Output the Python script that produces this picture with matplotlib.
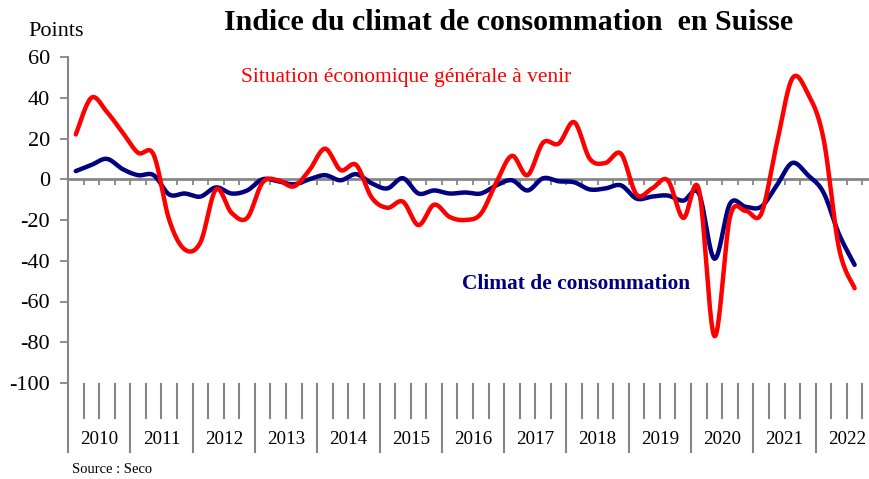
import numpy as np
import matplotlib
matplotlib.use("Agg")
import matplotlib.pyplot as plt
import matplotlib.transforms as mtransforms

plt.rcParams['font.family'] = ['Liberation Serif', 'DejaVu Serif']

# --- Data (quarterly, 2010 Q1 .. 2022 Q3) ---
years = [str(y) for y in range(2010, 2023)]
climat = [4, 7, 10, 5, 2, 2, -7.5, -7, -8.5, -4, -7, -5.5,
          0, -1, -2.5, 0, 2, -0.5, 2.5, -2, -4.5, 0.5, -7, -5.5,
          -7, -6.5, -7, -3, -0.5, -5.5, 0.5, -1, -1.5, -5, -4.5, -3,
          -9.5, -8.5, -8, -10.5, -7, -39, -12, -13.5, -13.5, -3, 8, 2,
          -6.5, -27, -42]
situation = [22, 40, 33, 23, 13, 12, -20, -34.5, -31, -5, -16.5, -19,
             -1.5, -0.5, -3.5, 4.5, 15, 4.5, 7, -9, -14, -11, -22.5, -12.5,
             -18.5, -20, -17, -1.5, 11.5, 2, 18, 17.5, 28, 10, 8, 12.5,
             -7.5, -4.5, -0.5, -19, -5, -77, -18.5, -15.5, -17, 17.5, 49.5, 42,
             20, -34, -53.5]

n_cat = 4 * len(years)
red = '#FF0000'
navy = '#000080'
gray = '#868686'


def smooth(vals, steps=20):
    # Catmull-Rom style smoothing, like spreadsheet "smoothed line"
    v = np.asarray(vals, dtype=float)
    x = np.arange(len(v)) + 0.5
    p = np.column_stack([x, v])
    p = np.vstack([p[0], p, p[-1]])
    out = []
    for i in range(1, len(p) - 2):
        p0, p1, p2, p3 = p[i - 1], p[i], p[i + 1], p[i + 2]
        c1 = p1 + (p2 - p0) / 6.0
        c2 = p2 - (p3 - p1) / 6.0
        t = np.linspace(0, 1, steps, endpoint=False)[:, None]
        seg = ((1 - t) ** 3) * p1 + 3 * ((1 - t) ** 2) * t * c1 \
            + 3 * (1 - t) * t ** 2 * c2 + t ** 3 * p2
        out.append(seg)
    out.append(p[-2][None, :])
    out = np.vstack(out)
    return out[:, 0], out[:, 1]


fig = plt.figure(figsize=(8.7, 4.79), dpi=100)
ax = fig.add_axes([68 / 870, 1 - 383 / 479, (878 - 68) / 870, (383 - 57) / 479])
ax.set_xlim(0, n_cat)
ax.set_ylim(-100, 60)

for s in ['top', 'right', 'bottom']:
    ax.spines[s].set_visible(False)
ax.spines['left'].set_color(gray)
ax.spines['left'].set_linewidth(1.5)

ax.set_yticks(np.arange(-100, 61, 20))
ax.set_yticklabels([str(v) for v in range(-100, 61, 20)], fontsize=16)
ax.tick_params(axis='y', length=6, width=1.3, color=gray, pad=7)
ax.set_xticks([])

# zero line with quarter ticks
ax.axhline(0, color=gray, lw=2, zorder=1)
ax.vlines(np.arange(0, n_cat + 1), -2.8, 0, color=gray, lw=1.3, zorder=1)

xs, ys = smooth(climat)
ax.plot(xs, ys, color=navy, lw=3.2, solid_capstyle='round', zorder=3)
xs, ys = smooth(situation)
ax.plot(xs, ys, color=red, lw=3.2, solid_capstyle='round', zorder=4)

ax.text(21.7, 50, "Situation économique générale à venir", color=red,
        fontsize=15.4, ha='center', va='center')
ax.text(32.6, -51.5, "Climat de consommation", color=navy,
        fontsize=15.4, fontweight='bold', ha='center', va='center')

# multi-level category labels below the plot
trans = mtransforms.blended_transform_factory(ax.transData, fig.transFigure)
y_top = 1 - 384 / 479
y_q = 1 - 418 / 479
y_yr = 1 - 452 / 479
for k in range(n_cat + 1):
    if k % 4 == 0:
        ax.plot([k, k], [y_top, y_yr], color=gray, lw=1.5, transform=trans, clip_on=False)
    else:
        ax.plot([k, k], [y_top, y_q], color=gray, lw=1.5, transform=trans, clip_on=False)
for j, yr in enumerate(years):
    ax.text(4 * j + 2, 1 - 440 / 479, yr, transform=trans, ha='center', va='center',
            fontsize=13.7)

fig.text(0.584, 1 - 23 / 479, "Indice du climat de consommation  en Suisse",
         ha='center', va='center', fontsize=21.5, fontweight='bold')
fig.text(28 / 870, 1 - 32 / 479, "Points", ha='left', va='center', fontsize=16)
fig.text(72 / 870, 1 - 463 / 479, "Source : Seco", ha='left', va='top', fontsize=10.5)

fig.savefig('out.png', dpi=100)
